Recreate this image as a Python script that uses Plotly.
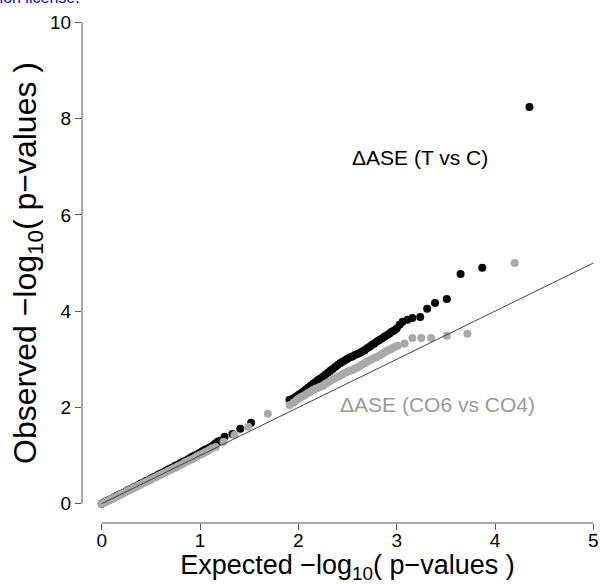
import plotly.graph_objects as go

# ---- Delta ASE (T vs C): expected vs observed -log10(p) ----
tc_low_x = [0.000, 0.025, 0.050, 0.075, 0.100, 0.125, 0.150, 0.175, 0.200, 0.225, 0.250, 0.275,
            0.300, 0.325, 0.350, 0.375, 0.400, 0.425, 0.450, 0.475, 0.500, 0.525, 0.550, 0.575,
            0.600, 0.625, 0.650, 0.675, 0.700, 0.725, 0.750, 0.775, 0.800, 0.825, 0.850, 0.875,
            0.900, 0.925, 0.950, 0.975, 1.000, 1.025, 1.050, 1.075, 1.100, 1.125, 1.150, 1.175,
            1.200]
tc_low_y = [0.00, 0.03, 0.05, 0.08, 0.10, 0.13, 0.16, 0.18, 0.21, 0.23, 0.26, 0.29,
            0.31, 0.34, 0.36, 0.39, 0.42, 0.44, 0.47, 0.49, 0.52, 0.55, 0.57, 0.60,
            0.63, 0.65, 0.68, 0.71, 0.73, 0.76, 0.79, 0.81, 0.84, 0.87, 0.89, 0.92,
            0.95, 0.98, 1.00, 1.03, 1.06, 1.09, 1.12, 1.14, 1.17, 1.20, 1.24, 1.28,
            1.31]
tc_mid_x = [1.25, 1.33, 1.41, 1.52, 1.91,
            1.950, 1.975, 2.000, 2.025, 2.050, 2.075, 2.100, 2.125, 2.150, 2.175, 2.200, 2.225,
            2.250, 2.275, 2.300, 2.325, 2.350, 2.375, 2.400, 2.425, 2.450, 2.475, 2.500, 2.525,
            2.550, 2.575, 2.600, 2.625, 2.650, 2.675, 2.700, 2.725, 2.750, 2.775, 2.800, 2.825,
            2.850, 2.875, 2.900, 2.925, 2.950, 2.975, 3.000]
tc_mid_y = [1.39, 1.45, 1.56, 1.68, 2.16,
            2.19, 2.22, 2.26, 2.29, 2.33, 2.37, 2.41, 2.45, 2.49, 2.53, 2.57, 2.60,
            2.64, 2.68, 2.72, 2.76, 2.80, 2.84, 2.88, 2.92, 2.95, 2.98, 3.01, 3.04,
            3.06, 3.09, 3.11, 3.13, 3.16, 3.19, 3.23, 3.26, 3.30, 3.33, 3.37, 3.40,
            3.43, 3.47, 3.50, 3.53, 3.57, 3.60, 3.64]
tc_tail_x = [3.03, 3.06, 3.11, 3.16, 3.24, 3.31, 3.39, 3.51, 3.65, 3.87, 4.35]
tc_tail_y = [3.72, 3.78, 3.82, 3.86, 3.88, 4.05, 4.17, 4.25, 4.77, 4.90, 8.24]

# ---- Delta ASE (CO6 vs CO4) ----
co_low_x = [0.000, 0.025, 0.050, 0.075, 0.100, 0.125, 0.150, 0.175, 0.200, 0.225, 0.250, 0.275,
            0.300, 0.325, 0.350, 0.375, 0.400, 0.425, 0.450, 0.475, 0.500, 0.525, 0.550, 0.575,
            0.600, 0.625, 0.650, 0.675, 0.700, 0.725, 0.750, 0.775, 0.800, 0.825, 0.850, 0.875,
            0.900, 0.925, 0.950, 0.975, 1.000, 1.025, 1.050, 1.075, 1.100, 1.125, 1.160]
co_low_y = [0.00, 0.02, 0.05, 0.07, 0.10, 0.12, 0.15, 0.17, 0.20, 0.22, 0.25, 0.28,
            0.30, 0.33, 0.35, 0.38, 0.40, 0.43, 0.45, 0.48, 0.50, 0.53, 0.55, 0.58,
            0.60, 0.63, 0.65, 0.68, 0.70, 0.73, 0.75, 0.78, 0.80, 0.83, 0.86, 0.88,
            0.91, 0.93, 0.96, 0.99, 1.02, 1.04, 1.07, 1.09, 1.12, 1.15, 1.18]
co_mid_x = [1.24, 1.35, 1.49, 1.69, 1.91,
            1.950, 1.975, 2.000, 2.025, 2.050, 2.075, 2.100, 2.125, 2.150, 2.175, 2.200, 2.225,
            2.250, 2.275, 2.300, 2.325, 2.350, 2.375, 2.400, 2.425, 2.450, 2.475, 2.500, 2.525,
            2.550, 2.575, 2.600, 2.625, 2.650, 2.675, 2.700, 2.725, 2.750, 2.775, 2.800, 2.825,
            2.850, 2.875, 2.900, 2.925, 2.950, 2.975, 3.010]
co_mid_y = [1.29, 1.43, 1.60, 1.87, 2.05,
            2.10, 2.14, 2.18, 2.21, 2.24, 2.27, 2.30, 2.33, 2.36, 2.39, 2.41, 2.43,
            2.45, 2.49, 2.52, 2.55, 2.58, 2.61, 2.63, 2.66, 2.69, 2.72, 2.74, 2.76,
            2.78, 2.81, 2.83, 2.86, 2.89, 2.92, 2.95, 2.98, 3.00, 3.03, 3.05, 3.08,
            3.11, 3.14, 3.17, 3.20, 3.22, 3.25, 3.28]
co_tail_x = [3.08, 3.16, 3.25, 3.35, 3.51, 3.72, 4.20]
co_tail_y = [3.33, 3.44, 3.44, 3.44, 3.49, 3.53, 5.00]

diag = [0, 5]
x_ticks = [0, 1, 2, 3, 4, 5]
y_ticks = [0, 2, 4, 6, 8, 10]

tc_x = tc_low_x + tc_mid_x + tc_tail_x
tc_y = tc_low_y + tc_mid_y + tc_tail_y
co_x = co_low_x + co_mid_x + co_tail_x
co_y = co_low_y + co_mid_y + co_tail_y

FONT = "Liberation Sans, Arial, sans-serif"

fig = go.Figure()
fig.add_trace(go.Scatter(x=tc_x, y=tc_y, mode="markers",
                         marker=dict(color="#000000", size=8, line=dict(width=0)),
                         showlegend=False, hoverinfo="skip"))
fig.add_trace(go.Scatter(x=co_x, y=co_y, mode="markers",
                         marker=dict(color="#A9A9A9", size=8, line=dict(width=0)),
                         showlegend=False, hoverinfo="skip"))
fig.add_trace(go.Scatter(x=diag, y=diag, mode="lines",
                         line=dict(color="#444444", width=1),
                         showlegend=False, hoverinfo="skip"))

# R-style detached axis lines
fig.add_shape(type="line", xref="paper", yref="y", x0=0, x1=0, y0=0, y1=10,
              line=dict(color="#555555", width=1))
fig.add_shape(type="line", xref="x", yref="paper", x0=0, x1=5, y0=0, y1=0,
              line=dict(color="#555555", width=1))

fig.add_annotation(x=3.24, y=7.19, text="\u0394ASE (T vs C)", showarrow=False,
                   font=dict(family=FONT, size=21, color="#000000"))
fig.add_annotation(x=3.42, y=2.07, text="\u0394ASE (CO6 vs CO4)", showarrow=False,
                   font=dict(family=FONT, size=21, color="#999999"))

# cropped caption remnant at the top-left
fig.add_annotation(xref="paper", yref="paper", x=0.0, y=1.010, xanchor="right", yanchor="middle",
                   text='<span style="color:#0000EE">tribution license</span>.', showarrow=False,
                   font=dict(family=FONT, size=16, color="#000000"))

fig.update_xaxes(range=[-0.2, 5.2], tickvals=x_ticks, ticks="outside", ticklen=6,
                 tickcolor="#555555", showline=False, showgrid=False, zeroline=False,
                 ticklabelstandoff=-6,
                 tickfont=dict(family=FONT, size=19, color="#000000"),
                 title=dict(text="Expected \u2212log<sub>10</sub>( p\u2212values )",
                            font=dict(family=FONT, size=27, color="#000000"), standoff=4))
fig.update_yaxes(range=[-0.4, 10.4], tickvals=y_ticks, ticks="outside", ticklen=6,
                 tickcolor="#555555", showline=False, showgrid=False, zeroline=False,
                 tickfont=dict(family=FONT, size=19, color="#000000"),
                 title=dict(text="Observed \u2212log<sub>10</sub>( p\u2212values )",
                            font=dict(family=FONT, size=32, color="#000000"), standoff=3))

fig.update_layout(width=613, height=584, margin=dict(l=82, r=0, t=3, b=61),
                  plot_bgcolor="white", paper_bgcolor="white", hovermode=False)

fig.write_html("out.html", config={"displayModeBar": False},
               post_script="document.body.style.margin='0px';")
